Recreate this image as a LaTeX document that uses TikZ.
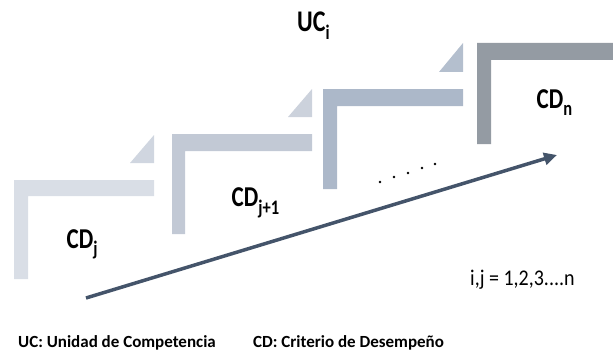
\documentclass[tikz,border=0pt]{standalone}
\usepackage{fontspec}
\usepackage{graphicx}
\setmainfont{Carlito}
\usetikzlibrary{arrows.meta}
\definecolor{cA}{RGB}{217,222,230}
\definecolor{tA}{RGB}{208,214,224}
\definecolor{cB}{RGB}{194,201,213}
\definecolor{tB}{RGB}{204,210,220}
\definecolor{cC}{RGB}{172,184,201}
\definecolor{tC}{RGB}{180,191,206}
\definecolor{cD}{RGB}{148,155,163}
\definecolor{arr}{RGB}{68,84,106}
\newcommand\mysb[1]{\raisebox{-6pt}{\fontsize{16.5}{16.5}\selectfont #1}}
\newcommand\tall[1]{\scalebox{1}[1.25]{#1}}
\tikzset{
  lbl/.style={font=\fontsize{23}{25}\selectfont\bfseries, inner sep=0pt, anchor=base west},
  note/.style={font=\fontsize{17}{19}\selectfont\bfseries, inner sep=0pt, anchor=base west},
}
\begin{document}
\begin{tikzpicture}[x=1pt,y=-1pt]
\useasboundingbox (0,0) rectangle (613,353);
% step 1
\fill[cA] (14,180) -- (154,180) -- (154,196) -- (28,196) -- (28,279) -- (14,279) -- cycle;
\fill[tA] (130,163) -- (154,163) -- (154,135) -- cycle;
% step 2
\fill[cB] (172,134) -- (312,134) -- (312,151) -- (185,151) -- (185,234) -- (172,234) -- cycle;
\fill[tB] (288,117) -- (312,117) -- (312,89) -- cycle;
% step 3
\fill[cC] (323,89) -- (463,89) -- (463,106) -- (337,106) -- (337,189) -- (323,189) -- cycle;
\fill[tC] (439,72) -- (463,72) -- (463,43) -- cycle;
% step 4
\fill[cD] (477,43) -- (613,43) -- (613,60) -- (491,60) -- (491,144) -- (477,144) -- cycle;
% labels
\node[lbl, font=\fontsize{24}{26}\selectfont\bfseries] (uci) at (297,31.7) {\tall{UC\mysb{i}}};
\node[lbl] (cdj) at (66.5,248) {\tall{CD\mysb{j}}};
\node[lbl] (cdj1) at (231.5,206.7) {\tall{CD\mysb{j+1}}};
\node[lbl] (cdn) at (536.5,108.3) {\tall{CD\mysb{n}}};
\foreach \x/\y in {380/182,394/177,408/173,422/168,435/164}
  \fill[black] (\x,\y) circle (1.4);
% arrow
\coordinate (a0) at (86,298);
\coordinate (a1) at (557,155);
\draw[arr, line width=3.5pt, -{Triangle[length=13pt,width=12pt]}] (a0) -- (a1);
% notes
\node[note, font=\fontsize{20}{22}\selectfont] (ij) at (470,285) {\scalebox{1}[1.12]{i,j = 1,2,3....n}};
\node[note] (uc) at (18,347) {UC: Unidad de Competencia};
\node[note] (cd) at (253,347) {CD: Criterio de Desempeño};
\end{tikzpicture}
\end{document}
